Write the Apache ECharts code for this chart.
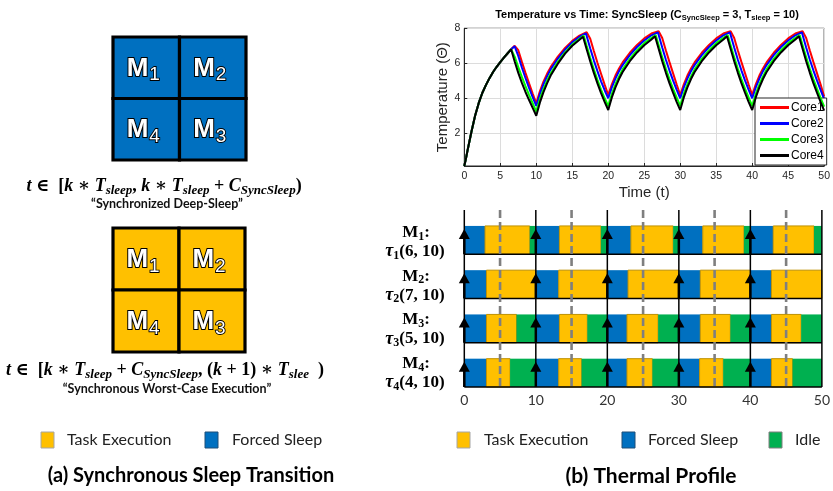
<!DOCTYPE html>
<html><head><meta charset="utf-8">
<script src="https://cdn.jsdelivr.net/npm/echarts@6/dist/echarts.min.js"></script>
<style>html,body{margin:0;padding:0;background:#fff}#c{width:833px;height:491px}</style>
</head><body><div id="c"></div>
<script>
// ---------------- DATA ----------------
const coreNames = ['Core1', 'Core2', 'Core3', 'Core4'];
const coreColors = ['#ff0000', '#0000ff', '#00ff00', '#000000'];
const tempTicks = [2, 4, 6, 8];

const core1Temp = [[0,0.13],[0.25,0.6],[0.5,1.12],[1,2.1],[1.5,3.0],[2,3.72],[2.5,4.3],[3,4.75],[3.5,5.15],[4,5.5],[4.5,5.8],[5,6.07],[5.5,6.32],[6,6.56],[6.5,6.8],[7,7.0],[7.25,7.08],[7.5,6.75],[8,6.08],[8.5,5.45],[9,4.85],[9.5,4.27],[10,3.71],
[10.5,4.4],[11,4.95],[11.5,5.4],[12,5.78],[13,6.38],[14,6.88],[15,7.28],[16,7.58],[17,7.78],[17.2,7.81],[17.5,7.4],[18,6.7],[18.5,6.03],[19,5.4],[19.5,4.78],[20,4.19],
[20.5,4.8],[21,5.3],[21.5,5.7],[22,6.05],[23,6.6],[24,7.05],[25,7.42],[26,7.7],[27,7.84],[27.2,7.87],[27.5,7.45],[28,6.75],[28.5,6.08],[29,5.44],[29.5,4.8],[30,4.19],
[30.5,4.8],[31,5.3],[31.5,5.7],[32,6.05],[33,6.6],[34,7.05],[35,7.42],[36,7.7],[37,7.84],[37.2,7.87],[37.5,7.45],[38,6.75],[38.5,6.08],[39,5.44],[39.5,4.8],[40,4.19],
[40.5,4.8],[41,5.3],[41.5,5.7],[42,6.05],[43,6.6],[44,7.05],[45,7.42],[46,7.7],[47,7.84],[47.2,7.87],[47.5,7.45],[48,6.75],[48.5,6.08],[49,5.44],[49.5,4.8],[50,4.1]];

const core2Temp = [[0,0.13],[0.25,0.6],[0.5,1.12],[1,2.1],[1.5,3.0],[2,3.72],[2.5,4.3],[3,4.75],[3.5,5.15],[4,5.5],[4.5,5.8],[5,6.07],[5.5,6.32],[6,6.56],[6.5,6.8],[7,6.97],[7.1,7.0],[7.5,6.42],[8,5.76],[8.5,5.16],[9,4.6],[9.5,4.06],[10,3.56],
[10.5,4.25],[11,4.8],[11.5,5.25],[12,5.65],[13,6.27],[14,6.78],[15,7.2],[16,7.52],[16.9,7.71],[17.5,6.85],[18,6.17],[18.5,5.55],[19,4.97],[19.5,4.46],[20,4.0],
[20.5,4.62],[21,5.12],[21.5,5.55],[22,5.9],[23,6.47],[24,6.93],[25,7.3],[26,7.6],[26.9,7.77],[27.5,6.9],[28,6.22],[28.5,5.6],[29,5.02],[29.5,4.5],[30,4.0],
[30.5,4.62],[31,5.12],[31.5,5.55],[32,5.9],[33,6.47],[34,6.93],[35,7.3],[36,7.6],[36.9,7.77],[37.5,6.9],[38,6.22],[38.5,5.6],[39,5.02],[39.5,4.5],[40,4.0],
[40.5,4.62],[41,5.12],[41.5,5.55],[42,5.9],[43,6.47],[44,6.93],[45,7.3],[46,7.6],[46.9,7.77],[47.5,6.9],[48,6.22],[48.5,5.6],[49,5.02],[49.5,4.48],[50,3.95]];

const core3Temp = [[0,0.13],[0.25,0.6],[0.5,1.12],[1,2.1],[1.5,3.0],[2,3.72],[2.5,4.3],[3,4.75],[3.5,5.15],[4,5.5],[4.5,5.8],[5,6.07],[5.5,6.32],[6,6.56],[6.5,6.8],[6.6,6.84],[7,6.38],[7.5,5.78],[8,5.22],[8.5,4.7],[9,4.2],[9.5,3.72],[10,3.24],
[10.5,3.95],[11,4.52],[11.5,5.0],[12,5.42],[13,6.08],[14,6.62],[15,7.07],[16,7.4],[16.6,7.58],[17,7.0],[17.5,6.3],[18,5.65],[18.5,5.05],[19,4.5],[19.5,4.0],[20,3.56],
[20.5,4.25],[21,4.8],[21.5,5.25],[22,5.65],[23,6.25],[24,6.75],[25,7.15],[26,7.45],[26.6,7.62],[27,7.05],[27.5,6.35],[28,5.7],[28.5,5.1],[29,4.55],[29.5,4.05],[30,3.56],
[30.5,4.25],[31,4.8],[31.5,5.25],[32,5.65],[33,6.25],[34,6.75],[35,7.15],[36,7.45],[36.6,7.62],[37,7.05],[37.5,6.35],[38,5.7],[38.5,5.1],[39,4.55],[39.5,4.05],[40,3.56],
[40.5,4.25],[41,4.8],[41.5,5.25],[42,5.65],[43,6.25],[44,6.75],[45,7.15],[46,7.45],[46.6,7.62],[47,7.05],[47.5,6.35],[48,5.7],[48.5,5.1],[49,4.55],[49.5,4.03],[50,3.52]];

const core4Temp = [[0,0.13],[0.25,0.6],[0.5,1.12],[1,2.1],[1.5,3.0],[2,3.72],[2.5,4.3],[3,4.75],[3.5,5.15],[4,5.5],[4.5,5.8],[5,6.07],[5.5,6.32],[6,6.56],[6.5,6.8],[7,6.1],[7.5,5.45],[8,4.88],[8.5,4.36],[9,3.9],[9.5,3.45],[10,3.0],
[10.5,3.75],[11,4.35],[11.5,4.85],[12,5.3],[13,5.98],[14,6.55],[15,7.0],[16,7.34],[16.5,7.52],[17,6.8],[17.5,6.1],[18,5.45],[18.5,4.85],[19,4.3],[19.5,3.8],[20,3.33],
[20.5,4.05],[21,4.62],[21.5,5.1],[22,5.5],[23,6.12],[24,6.62],[25,7.03],[26,7.36],[26.5,7.55],[27,6.83],[27.5,6.12],[28,5.47],[28.5,4.87],[29,4.32],[29.5,3.8],[30,3.33],
[30.5,4.05],[31,4.62],[31.5,5.1],[32,5.5],[33,6.12],[34,6.62],[35,7.03],[36,7.36],[36.5,7.55],[37,6.83],[37.5,6.12],[38,5.47],[38.5,4.87],[39,4.32],[39.5,3.8],[40,3.33],
[40.5,4.05],[41,4.62],[41.5,5.1],[42,5.5],[43,6.12],[44,6.62],[45,7.03],[46,7.36],[46.5,7.55],[47,6.83],[47.5,6.12],[48,5.47],[48.5,4.87],[49,4.32],[49.5,3.8],[50,3.3]];

// Gantt blocks: [row, start, end]
const sleepBlocks = [
  [0,0,2.9],[0,10,13.3],[0,20,23.3],[0,30,33.35],[0,40,43.2],
  [1,0,3.1],[1,10,13.2],[1,20,22.9],[1,30,33.0],[1,40,42.95],
  [2,0,3.1],[2,10,13.3],[2,20,22.75],[2,30,33.0],[2,40,42.95],
  [3,0,3.1],[3,10,13.2],[3,20,22.75],[3,30,32.9],[3,40,42.95]];
const execBlocks = [
  [0,2.9,9.15],[0,13.3,19.1],[0,23.3,29.2],[0,33.35,39.1],[0,43.2,48.9],
  [1,3.1,10],[1,13.2,20],[1,22.9,30],[1,33.0,40],[1,42.95,50],
  [2,3.1,7.3],[2,13.3,17.2],[2,22.75,27.1],[2,33.0,37.2],[2,42.95,47.1],
  [3,3.1,6.4],[3,13.2,16.4],[3,22.75,26.3],[3,32.9,36.2],[3,42.95,45.9]];
const idleBlocks = [
  [0,9.15,10],[0,19.1,20],[0,29.2,30],[0,39.1,40],[0,48.9,50],
  [2,7.3,10],[2,17.2,20],[2,27.1,30],[2,37.2,40],[2,47.1,50],
  [3,6.4,10],[3,16.4,20],[3,26.3,30],[3,36.2,40],[3,45.9,50]];
const ganttRows = [0, 1, 2, 3];
const releaseTimes = [0, 10, 20, 30, 40];
const periodLines = [0, 10, 20, 30, 40, 50];
const midLines = [5, 15, 25, 35, 45];
const taskLabels = [['1','6, 10'],['2','7, 10'],['3','5, 10'],['4','4, 10']];

// 2x2 core mesh: [col, row], label
const meshCells = [[0,0],[1,0],[0,1],[1,1]];
const meshLabels = ['1','2','4','3'];

// ---------------- STYLE ----------------
const YEL = '#FFC000', BLU = '#0070C0', GRN = '#00B050';
const sans = '"Liberation Sans", Arial, sans-serif';
const serif = '"Liberation Serif", "DejaVu Serif", serif';
const cal = 'Lato, "Open Sans", sans-serif';
const ROWTOP = 0.36;

function blockSeries(name, data, fill, stroke) {
  return {
    type: 'custom', name, xAxisIndex: 1, yAxisIndex: 1, z: 2, data,
    encode: { x: [1, 2], y: 0 },
    renderItem: (p, api) => {
      const a = api.coord([api.value(1), api.value(0) + ROWTOP]);
      const b = api.coord([api.value(2), api.value(0) + 1]);
      return { type: 'rect', shape: { x: a[0], y: a[1], width: b[0] - a[0], height: b[1] - a[1] },
        style: { fill, stroke: stroke || null, lineWidth: stroke ? 1 : 0 } };
    }
  };
}
function meshSeries(idx, fill) {
  return {
    type: 'custom', xAxisIndex: idx, yAxisIndex: idx, data: meshCells, z: 3,
    renderItem: (p, api) => {
      const c = api.coord([api.value(0), api.value(1)]);
      const s = api.size([1, 1]);
      const mstyle = { fontFamily: sans, fontWeight: 'bold', fontSize: 26, fill: '#fff', stroke: '#000', lineWidth: 2 };
      return { type: 'group', children: [
        { type: 'rect', shape: { x: c[0] - s[0] / 2, y: c[1] - s[1] / 2, width: s[0], height: s[1] },
          style: { fill, stroke: '#000', lineWidth: 3.2 } },
        { type: 'text', x: c[0] - 3, y: c[1] + 1, z2: 5,
          style: { text: '{m|M}{s|' + meshLabels[p.dataIndex] + '}', align: 'center', verticalAlign: 'middle',
            fill: '#fff', stroke: '#000', lineWidth: 2,
            rich: { m: mstyle, s: Object.assign({}, mstyle, { fontWeight: 'normal', fontSize: 19, lineWidth: 1.8, padding: [13, 0, 0, 1] }) } } }
      ] };
    }
  };
}

const fI = { fontFamily: serif, fontStyle: 'italic', fontWeight: 'bold', fontSize: 18, fill: '#000' };
const fU = { fontFamily: serif, fontWeight: 'bold', fontSize: 18, fill: '#000' };
const fS = { fontFamily: serif, fontStyle: 'italic', fontWeight: 'bold', fontSize: 13, fill: '#000', padding: [10, 0, 0, 0] };
const fRich = { i: fI, u: fU, s: fS };

const gB = { fontFamily: serif, fontWeight: 'bold', fontSize: 17, fill: '#000' };
const gI = { fontFamily: serif, fontWeight: 'bold', fontStyle: 'italic', fontSize: 18, fill: '#000' };
const gS = { fontFamily: serif, fontWeight: 'bold', fontSize: 12, fill: '#000', padding: [8, 0, 0, 0] };

const graphics = [];
function txt(x, y, text, style, align) {
  graphics.push({ type: 'text', x, y, z: 10,
    style: Object.assign({ text, align: align || 'center', verticalAlign: 'middle' }, style) });
}
function swatch(x, y, fill, stroke) {
  graphics.push({ type: 'rect', shape: { x, y, width: 13, height: 16 }, z: 10,
    style: { fill, stroke, lineWidth: 1 } });
}
// formulas and captions (a)
txt(164, 186, '{i|t }{u|∈  [}{i|k }{u|∗ }{i|T}{s|sleep}{u|, }{i|k }{u|∗ }{i|T}{s|sleep}{u| + }{i|C}{s|SyncSleep}{u|)}', { rich: fRich });
txt(167, 204, '“Synchronized Deep-Sleep”', { fontFamily: cal, fontWeight: 'bold', fontSize: 12.5, fill: '#111' });
txt(165, 370, '{i|t }{u|∈  [}{i|k }{u|∗ }{i|T}{s|sleep}{u| + }{i|C}{s|SyncSleep}{u|, (}{i|k }{u|+ 1) ∗ }{i|T}{s|slee}{u|  )}', { rich: fRich });
txt(167, 389, '“Synchronous Worst-Case Execution”', { fontFamily: cal, fontWeight: 'bold', fontSize: 12.5, fill: '#111' });
// legends
const legStyle = { fontFamily: cal, fontSize: 16, fill: '#222' };
swatch(41, 432, YEL, '#A6A6A6'); txt(67, 440, 'Task Execution', legStyle, 'left');
swatch(205, 432, BLU, '#1F4E79'); txt(232, 440, 'Forced Sleep', legStyle, 'left');
swatch(457, 432, YEL, '#A6A6A6'); txt(484, 440, 'Task Execution', legStyle, 'left');
swatch(622, 432, BLU, '#1F4E79'); txt(648, 440, 'Forced Sleep', legStyle, 'left');
swatch(769, 432, GRN, '#7F7F7F'); txt(795, 440, 'Idle', legStyle, 'left');
// panel titles
txt(191, 476, '(a) Synchronous Sleep Transition', { fontFamily: cal, fontWeight: 'bold', fontSize: 20, fill: '#000' });
txt(651, 476, '(b) Thermal Profile', { fontFamily: cal, fontWeight: 'bold', fontSize: 21, fill: '#000' });
// thermal title
const tM = { fontFamily: sans, fontWeight: 'bold', fontSize: 11, fill: '#000' };
const tS = { fontFamily: sans, fontWeight: 'bold', fontSize: 7.5, fill: '#000', padding: [5, 0, 0, 0] };
txt(647, 15, '{m|Temperature vs Time: SyncSleep (C}{s|SyncSleep}{m| = 3, T}{s|sleep}{m| = 10)}', { rich: { m: tM, s: tS } });
// task labels
taskLabels.forEach((t, i) => {
  txt(416, 232.5 + 43.7 * i, '{b|M}{s|' + t[0] + '}{b|:}', { rich: { b: gB, s: gS } });
  txt(415, 251.5 + 43.7 * i, '{i|τ}{s|' + t[0] + '}{b|(' + t[1] + ')}', { rich: { b: gB, s: gS, i: gI } });
});

const thermalSeries = [core1Temp, core2Temp, core3Temp, core4Temp].map((d, i) => ({
  type: 'line', name: coreNames[i], xAxisIndex: 0, yAxisIndex: 0, data: d,
  symbol: 'none', showSymbol: false, smooth: false, z: 2 + i,
  lineStyle: { color: coreColors[i], width: 2 }, itemStyle: { color: coreColors[i] }
}));

const option = {
  animation: false,
  backgroundColor: '#fff',
  grid: [
    { left: 464.3, top: 28.3, width: 362.7, height: 137.7, show: true, borderColor: '#262626', borderWidth: 1, backgroundColor: '#fff' },
    { left: 464.3, top: 210, width: 362.4, height: 177 },
    { left: 113, top: 37, width: 133, height: 123 },
    { left: 113, top: 228, width: 132, height: 124 }
  ],
  xAxis: [
    { gridIndex: 0, type: 'value', min: 0, max: 50, interval: 5,
      axisLine: { lineStyle: { color: '#262626', width: 1 } },
      axisTick: { inside: true, length: 3, lineStyle: { color: '#262626' } },
      axisLabel: { fontSize: 10.5, color: '#262626', fontFamily: sans, margin: 5 },
      splitLine: { show: true, lineStyle: { color: '#dcdcdc', width: 1 } },
      name: 'Time (t)', nameLocation: 'middle', nameGap: 19,
      nameTextStyle: { fontSize: 15, color: '#262626', fontFamily: sans } },
    { gridIndex: 1, type: 'value', min: 0, max: 50, interval: 10,
      axisLine: { show: false }, axisTick: { show: false }, splitLine: { show: false },
      axisLabel: { fontSize: 14, color: '#333', fontFamily: cal, margin: 6 } },
    { gridIndex: 2, type: 'category', data: ['c0', 'c1'], show: false },
    { gridIndex: 3, type: 'category', data: ['c0', 'c1'], show: false }
  ],
  yAxis: [
    { gridIndex: 0, type: 'value', min: 0.13, max: 8,
      axisLine: { show: true, lineStyle: { color: '#262626', width: 1 } },
      axisTick: { show: true, inside: true, length: 3, customValues: tempTicks, lineStyle: { color: '#262626' } },
      axisLabel: { fontSize: 10.5, color: '#262626', fontFamily: sans, margin: 4, customValues: tempTicks },
      splitLine: { show: true, lineStyle: { color: '#dcdcdc', width: 1 } },
      name: 'Temperature (Θ)', nameLocation: 'middle', nameGap: 13, nameRotate: 90,
      nameTextStyle: { fontSize: 15, color: '#262626', fontFamily: sans } },
    { gridIndex: 1, type: 'value', min: 0, max: 4, inverse: true, show: false },
    { gridIndex: 2, type: 'category', data: ['r0', 'r1'], inverse: true, show: false },
    { gridIndex: 3, type: 'category', data: ['r0', 'r1'], inverse: true, show: false }
  ],
  legend: {
    data: coreNames.map(n => ({ name: n, icon: 'rect' })), orient: 'vertical', left: 755, top: 98,
    backgroundColor: '#fff', borderColor: '#262626', borderWidth: 1, borderRadius: 0,
    padding: [3, 3, 3, 5], itemGap: 3, itemWidth: 29, itemHeight: 3,
    textStyle: { fontSize: 12, fontFamily: sans, color: '#000', padding: [0, 0, 0, -3], lineHeight: 13 },
    selectedMode: false
  },
  graphic: graphics,
  series: [
    ...thermalSeries,
    blockSeries('Forced Sleep', sleepBlocks, BLU, null),
    blockSeries('Task Execution', execBlocks, YEL, '#BF9000'),
    blockSeries('Idle', idleBlocks, GRN, null),
    { type: 'custom', xAxisIndex: 1, yAxisIndex: 1, z: 3, data: ganttRows.map(r => [0, r]),
      renderItem: (p, api) => {
        const a = api.coord([0, api.value(1) + 1]); const b = api.coord([50, api.value(1) + 1]);
        return { type: 'line', shape: { x1: a[0], y1: a[1], x2: b[0], y2: b[1] }, style: { stroke: '#000', lineWidth: 1.5 } };
      } },
    { type: 'custom', xAxisIndex: 1, yAxisIndex: 1, z: 4, data: midLines.map(t => [t, 0]),
      renderItem: (p, api) => {
        const a = api.coord([api.value(0), 0]); const b = api.coord([api.value(0), 4]);
        return { type: 'line', shape: { x1: a[0], y1: a[1], x2: b[0], y2: b[1] },
          style: { stroke: '#7F7F7F', lineWidth: 2.6, lineDash: [8, 4] } };
      } },
    { type: 'custom', xAxisIndex: 1, yAxisIndex: 1, z: 5, data: periodLines.map(t => [t, 0]),
      renderItem: (p, api) => {
        const a = api.coord([api.value(0), 0]); const b = api.coord([api.value(0), 4]);
        return { type: 'line', shape: { x1: a[0], y1: a[1], x2: b[0], y2: b[1] }, style: { stroke: '#000', lineWidth: 1.5 } };
      } },
    { type: 'custom', xAxisIndex: 1, yAxisIndex: 1, z: 6,
      data: ganttRows.flatMap(r => releaseTimes.map(t => [t, r])),
      renderItem: (p, api) => {
        const tip = api.coord([api.value(0), api.value(1) + ROWTOP]);
        const bot = api.coord([api.value(0), api.value(1) + 1]);
        const x = tip[0], y = tip[1] + 3;
        return { type: 'group', children: [
          { type: 'line', shape: { x1: x, y1: y + 6, x2: x, y2: bot[1] }, style: { stroke: '#000', lineWidth: 2.5 } },
          { type: 'polygon', shape: { points: [[x, y], [x - 5.5, y + 10], [x + 5.5, y + 10]] }, style: { fill: '#000' } }
        ] };
      } },
    meshSeries(2, BLU),
    meshSeries(3, YEL)
  ]
};
const chart = echarts.init(document.getElementById('c'));
chart.setOption(option);
</script>
</body></html>
